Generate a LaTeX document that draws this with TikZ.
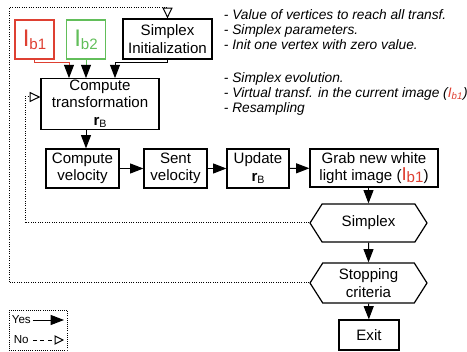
\documentclass[tikz,border=0pt]{standalone}
\usepackage{fontspec}
\setmainfont{Liberation Sans}
\usetikzlibrary{arrows.meta,shapes.symbols}

\definecolor{ibred}{RGB}{222,64,50}
\definecolor{ibgreen}{RGB}{98,190,90}

% big image symbol I with its index
\newcommand{\imgI}[2][18]{{\fontsize{#1}{#1}\selectfont I}\raisebox{-2pt}{#2}}
\newcommand{\rB}{\textbf{r}\raisebox{-2pt}{\fontsize{8}{8}\selectfont B}}

\tikzset{every picture/.style={line width=0.75pt}}
\tikzset{
  blk/.style={draw, line width=0.9pt, align=center, inner sep=1pt, font=\fontsize{11.3}{13}\selectfont},
  hexa/.style={blk, shape=signal, signal to=west and east, signal pointer angle=115},
  yes/.style={-{Triangle[length=10pt,width=7.5pt,color=black]}},
  no/.style={densely dotted, -{Triangle[open,length=8pt,width=7.5pt]}},
  note/.style={align=left, anchor=west, font=\fontsize{10.3}{11.25}\selectfont\itshape},
}

\begin{document}
\begin{tikzpicture}[x=0.75pt,y=0.75pt,yscale=-1,xscale=1]
\useasboundingbox (0,0) rectangle (467,352);

%Shape: Rectangle
\node[blk, draw=ibred, text=ibred, minimum width=29.25pt, minimum height=29.25pt] (ib1) at (34.5,39.5) {\imgI{b1}};
%Shape: Rectangle
\node[blk, draw=ibgreen, text=ibgreen, minimum width=29.25pt, minimum height=29.25pt] (ib2) at (86,39.5) {\imgI{b2}};
%Shape: Rectangle
\node[blk, minimum width=66.75pt, minimum height=30pt] (init) at (167.5,39) {Simplex\\Initialization};
%Shape: Rectangle
\node[blk, minimum width=88.5pt, minimum height=36pt] (ct) at (100,104) {Compute\\transformation\\\rB};
%Shape: Rectangle
\node[blk, minimum width=54.75pt, minimum height=29.25pt] (cv) at (82.5,168.5) {Compute\\velocity};
%Shape: Rectangle
\node[blk, minimum width=47.25pt, minimum height=29.25pt] (sv) at (175.5,168.5) {Sent\\velocity};
%Shape: Rectangle
\node[blk, minimum width=46.5pt, minimum height=29.25pt] (upd) at (258,168.5) {Update\\\rB};
%Shape: Rectangle
\node[blk, minimum width=96pt, minimum height=28.5pt, font=\fontsize{11.3}{12.5}\selectfont] (grab) at (374,168) {Grab new white\\light image (\textcolor{ibred}{\imgI[14]{b1}})};
%Shape: Hexagon
\node[hexa, minimum width=87.75pt, minimum height=28.5pt] (simplex) at (368.5,223) {Simplex};
%Shape: Hexagon
\node[hexa, minimum width=87.75pt, minimum height=30pt] (stop) at (368.5,283) {Stopping\\criteria};
%Shape: Rectangle
\node[blk, minimum width=45pt, minimum height=22.5pt] (exit) at (369,335) {Exit};

%Straight Lines
\draw[yes, ibred] (ib1.south) -- ++(0,3) -| ([xshift=-23.25pt]ct.north);
\draw[yes, ibgreen] (ib2.south) -- (ib2.south |- ct.north);
\draw[yes] (init.south) -- ++(0,3) -| ([xshift=11.25pt]ct.north);
\draw[yes] (ct.south -| ib2.south) -- (cv.north -| ib2.south);
\draw[yes] (cv) -- (sv);
\draw[yes] (sv) -- (upd);
\draw[yes] (upd) -- (grab);
\draw[yes] (grab.south -| simplex.north) -- (simplex.north);
\draw[yes] (simplex) -- (stop);
\draw[yes] (stop) -- (exit);

%Dotted loops
\coordinate (lpin) at (25,97);
\coordinate (tp) at (9,8);
\draw[no] (simplex.west) -| (lpin) -- (lpin -| ct.west);
\draw[no] (stop.west) -| (tp) -| (init.north);

% Text Node
\node[note] (notes1) at (219,30) {- Value of vertices to reach all transf.\\- Simplex parameters.\\- Init one vertex with zero value.};
% Text Node
\node[note] (notes2) at (219,94) {- Simplex evolution.\\- Virtual transf. in the current image (\textcolor{ibred}{I\textsubscript{b1}})\\- Resampling};

%Legend
\node[draw, densely dotted, line width=0.6pt, minimum width=43.5pt, minimum height=30pt] (legend) at (38,330) {};
\node[anchor=west, inner sep=1pt, font=\fontsize{8.7}{9}\selectfont] (yestxt) at (10,320) {Yes};
\coordinate (yesend) at (64,320);
\draw[yes] (yestxt) -- (yesend);
\node[anchor=west, inner sep=1pt, font=\fontsize{8.7}{9}\selectfont] (notxt) at (12,340) {No};
\coordinate (noend) at (64,340);
\draw[dash pattern=on 3pt off 2.5pt, -{Triangle[open,length=7pt,width=7pt]}] ([xshift=2pt]notxt.east) -- (noend);
\end{tikzpicture}
\end{document}
